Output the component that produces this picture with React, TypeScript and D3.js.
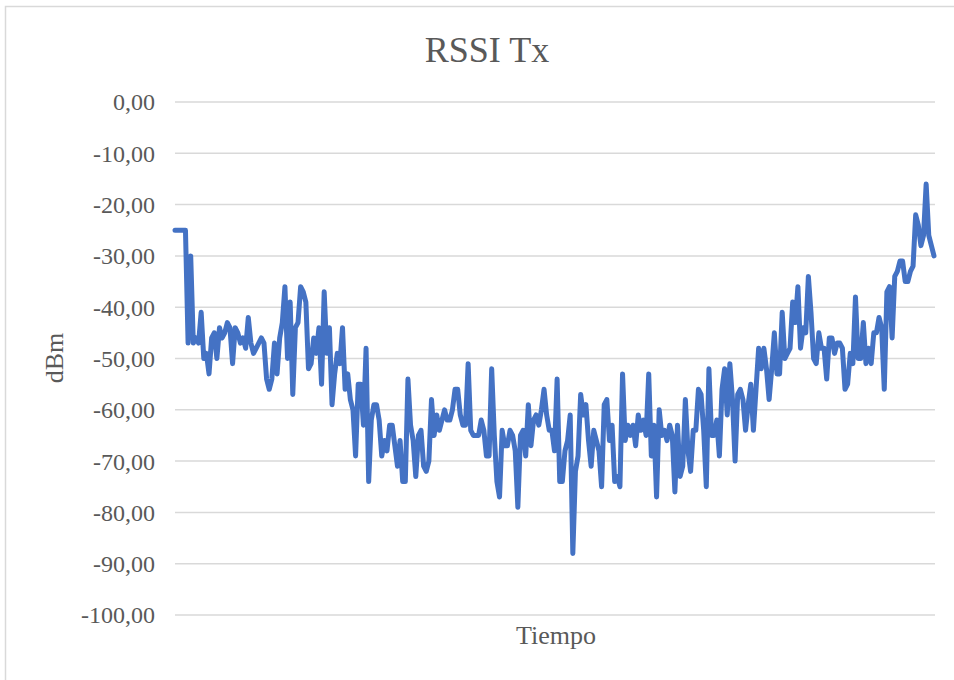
import React from "react";
import * as d3 from "d3";

const segA = [-25,-25,-25,-25,-25,-47,-30,-47,-46,-47,-41,-50,-49,-53,-46,-45,-50,-44,-46,-45,-43,-44,-51,-44,-45,-47,-46,-48,-42,-47,-49,-48,-47,-46,-47,-54,-56,-54,-47,-53,-46,-43,-36,-50,-39,-57,-44,-43,-36,-37,-39,-52,-51,-46,-49,-44,-55,-37,-49,-44,-59,-53,-49,-51,-44,-56,-53,-58,-60,-69,-55,-55,-63];
const segB = [-48,-74,-62,-59,-59,-62,-69,-66,-68,-63,-63,-67,-71,-66,-74,-74,-54,-63,-66,-73,-65,-64,-71,-72,-70,-58,-65,-61,-64,-62,-60,-62,-62,-60,-56,-56,-61,-63,-63,-51,-64,-65,-65,-65,-62,-64,-69,-69,-52,-65,-74,-77,-64,-67,-67,-64,-65,-68,-79,-65,-64,-69,-59,-67,-62,-61,-63,-60,-56,-61];
const segC = [-64,-64,-68,-54,-74,-74,-68,-66,-61,-88,-72,-69,-57,-61,-59,-66,-71,-64,-66,-68,-75,-59,-58,-66,-63,-74,-73,-75,-53,-66,-63,-65,-63,-67,-61,-64,-62,-65,-53,-69,-63,-77,-60,-65,-64,-66,-63,-65,-76,-63,-73,-71,-58,-68,-72,-64,-64,-56,-57,-64,-75,-52,-65,-65,-62,-69,-56,-52,-61,-51,-58,-70];
const segD = [-57,-56,-58,-64,-59,-55,-64,-56,-48,-52,-48,-52,-58,-52,-45,-53,-53,-41,-50,-49,-48,-39,-43,-36,-48,-44,-45,-34,-41,-50,-51,-45,-48,-48,-54,-46,-46,-49,-47,-47,-48,-56,-55,-49,-51,-38,-50,-50,-43,-51,-48,-51,-45,-45,-42,-44,-56,-37,-36,-46,-34,-33,-31,-31,-35,-35,-33,-32,-22,-24,-28,-26,-16,-26,-28,-30];
const rssi = [...segA, ...segB, ...segC, ...segD];
const yTicks = [0, -10, -20, -30, -40, -50, -60, -70, -80, -90, -100];

const W = 954;
const H = 680;

export default function App() {
  const x = d3.scaleLinear().domain([0, rssi.length - 1]).range([175, 934]);
  const y = d3.scaleLinear().domain([-100, 0]).range([615, 102]);
  const line = d3
    .line<number>()
    .x((_, i) => x(i))
    .y((d) => y(d));
  const fmt = (v: number) => v.toFixed(2).replace(".", ",");
  const font = "'Liberation Serif', 'Times New Roman', serif";
  return (
    <svg
      width={W}
      height={H}
      style={{ position: "absolute", left: 0, top: 0, background: "#fff" }}
      fontFamily={font}
    >
      <rect x={5.5} y={6.5} width={980} height={700} fill="#fff" stroke="#d9d9d9" strokeWidth={1.5} />
      <text x={487} y={62} textAnchor="middle" fontSize={36} fill="#595959">
        RSSI Tx
      </text>
      {yTicks.map((t) => (
        <g key={t}>
          <line x1={175} x2={935} y1={y(t)} y2={y(t)} stroke="#d9d9d9" strokeWidth={1.5} />
          <text x={155} y={y(t)} dy="0.35em" textAnchor="end" fontSize={24} fill="#595959">
            {fmt(t)}
          </text>
        </g>
      ))}
      <path
        d={line(rssi) || ""}
        fill="none"
        stroke="#4472C4"
        strokeWidth={5}
        strokeLinejoin="round"
        strokeLinecap="round"
      />
      <text
        transform={`translate(63, 358) rotate(-90)`}
        textAnchor="middle"
        fontSize={26}
        fill="#595959"
      >
        dBm
      </text>
      <text x={556} y={644} textAnchor="middle" fontSize={26} fill="#595959">
        Tiempo
      </text>
    </svg>
  );
}
